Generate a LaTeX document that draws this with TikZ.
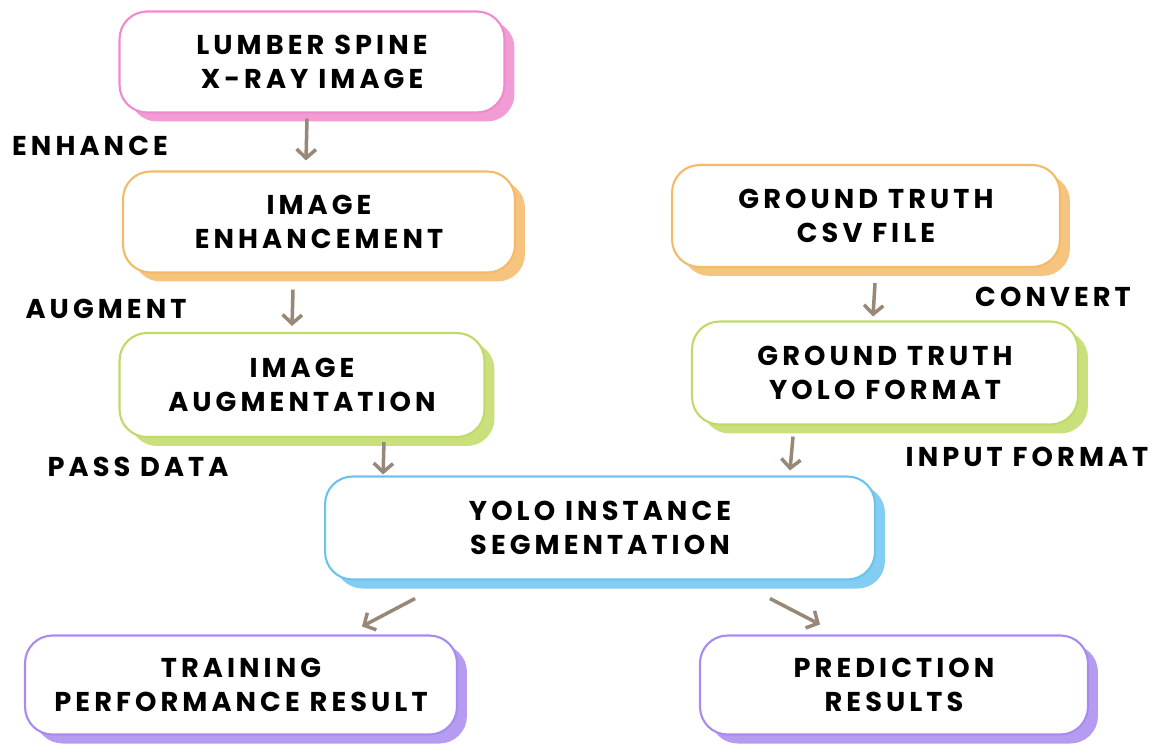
\documentclass[tikz,border=0pt]{standalone}
\usepackage{fontspec}
\usepackage{xcolor}
\newfontfamily\flowfont[LetterSpace=15]{Poppins}
\usepackage{tikz}
\usetikzlibrary{arrows.meta,positioning,calc,shadows}

\definecolor{pinkline}{HTML}{F08ACF}
\definecolor{orangeline}{HTML}{F5BA68}
\definecolor{greenline}{HTML}{BFDB66}
\definecolor{blueline}{HTML}{6CC4EE}
\definecolor{purpleline}{HTML}{A98BEF}
\definecolor{flowgray}{HTML}{978878}

\begin{document}
\begin{tikzpicture}[
  x=0.02cm, y=-0.02cm,
  stage/.style={draw=#1, line width=1.2pt, fill=white, rounded corners=0.55cm,
    align=center, font={\flowfont\bfseries\fontsize{15.5}{19}\selectfont},
    copy shadow={draw=none, fill=#1!85, shadow xshift=0.2cm, shadow yshift=-0.18cm}},
  lbl/.style={font={\flowfont\bfseries\fontsize{15.5}{19}\selectfont}},
  flow/.style={draw=flowgray, line width=2pt, -{Straight Barb[length=5pt,width=11pt]}}
]
\useasboundingbox (0,0) rectangle (1158,744);

% left column
\node[stage=pinkline, minimum width=7.7cm, minimum height=2.02cm] (spine) at (312,62) {LUMBER SPINE\\X-RAY IMAGE};
\node[stage=orangeline, minimum width=7.84cm, minimum height=2.02cm] (enhance) at (319,222) {IMAGE\\ENHANCEMENT};
\node[stage=greenline, minimum width=7.3cm, minimum height=2.08cm] (augment) at (302,385) {IMAGE\\AUGMENTATION};

% right column
\node[stage=orangeline, minimum width=7.76cm, minimum height=2.04cm] (csv) at (866,216) {GROUND TRUTH\\CSV FILE};
\node[stage=greenline, minimum width=7.72cm, minimum height=2.06cm] (yoloformat) at (885,373) {GROUND TRUTH\\YOLO FORMAT};

% model and outputs
\node[stage=blueline, minimum width=11cm, minimum height=2.06cm] (yolo) at (600,528) {YOLO INSTANCE\\SEGMENTATION};
\node[stage=purpleline, minimum width=8.64cm, minimum height=1.98cm] (training) at (241,685) {TRAINING\\PERFORMANCE RESULT};
\node[stage=purpleline, minimum width=7.76cm, minimum height=1.98cm] (prediction) at (894,685) {PREDICTION\\RESULTS};

% edge labels
\node[lbl] (lblenhance) at (90,146) {ENHANCE};
\node[lbl] (lblaugment) at (106,309) {AUGMENT};
\node[lbl] (lblpass) at (138,467) {PASS DATA};
\node[lbl] (lblconvert) at (1053,297) {CONVERT};
\node[lbl] (lblinput) at (1027,457) {INPUT FORMAT};

\draw[flow] ([xshift=-0.1cm,yshift=-0.1cm]spine.south) -- ([xshift=-0.26cm,yshift=0.2cm]enhance.north);
\draw[flow] ([xshift=-0.52cm,yshift=-0.32cm]enhance.south) -- ([xshift=-0.2cm,yshift=0.12cm]augment.north);
\draw[flow] ([xshift=1.64cm,yshift=-0.08cm]augment.south) -- ([xshift=-4.34cm,yshift=0.02cm]yolo.north);
\draw[flow] ([xshift=0.18cm,yshift=-0.3cm]csv.south) -- ([xshift=-0.24cm,yshift=0.08cm]yoloformat.north);
\draw[flow] ([xshift=-1.84cm,yshift=-0.22cm]yoloformat.south) -- ([xshift=3.8cm,yshift=0.1cm]yolo.north);
\draw[flow] ([xshift=-3.7cm,yshift=-0.36cm]yolo.south) -- ([xshift=2.42cm,yshift=0.16cm]training.north);
\draw[flow] ([xshift=3.4cm,yshift=-0.36cm]yolo.south) -- ([xshift=-1.48cm,yshift=0.2cm]prediction.north);
\end{tikzpicture}
\end{document}
